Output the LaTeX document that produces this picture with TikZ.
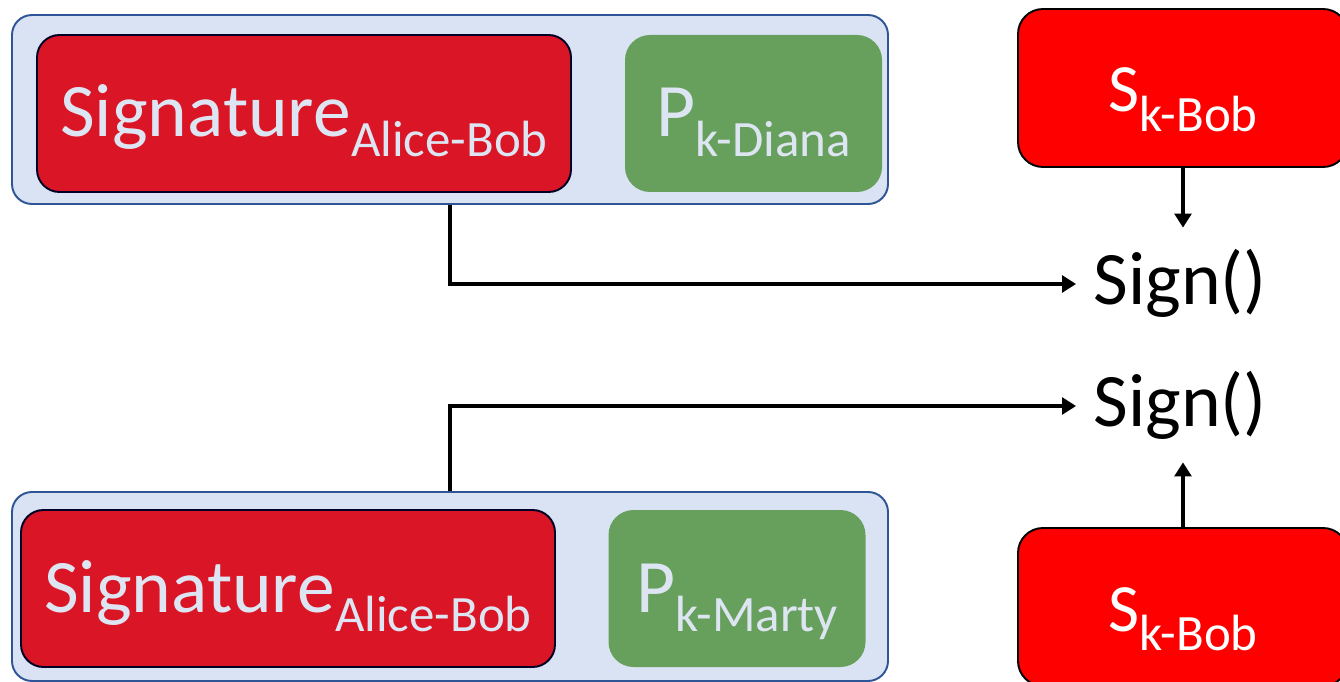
\documentclass[tikz,border=0pt]{standalone}
\usepackage{fontspec}
\setmainfont{Carlito}
\usetikzlibrary{arrows.meta}
\definecolor{grpfill}{HTML}{DAE3F3}
\definecolor{grpline}{HTML}{2F5597}
\definecolor{sigred}{HTML}{DA1525}
\definecolor{keygreen}{HTML}{67A05C}
\definecolor{lighttxt}{HTML}{DEE5F2}
\newcommand{\bigtxt}{\fontsize{43pt}{48pt}\selectfont}
\newcommand{\midtxt}{\fontsize{38.5pt}{43pt}\selectfont}
\newcommand{\lowtxt}[1]{\raisebox{-11.3pt}{\fontsize{29pt}{32pt}\selectfont #1}}

\begin{document}
\begin{tikzpicture}[x=0.02cm,y=-0.02cm,
  grp/.style={draw=grpline,line width=1.1pt,fill=grpfill,rounded corners=0.4cm,
    minimum width=876*\u,minimum height=189*\u},
  sigbox/.style={draw=black!85!blue,line width=1.1pt,fill=sigred,rounded corners=0.45cm,
    minimum width=534*\u,minimum height=157*\u,text=lighttxt,font=\bigtxt,
    text height=47*\u,text depth=0pt},
  keybox/.style={fill=keygreen,rounded corners=0.5cm,
    minimum width=257*\u,minimum height=157*\u,text=lighttxt,font=\bigtxt,
    text height=47*\u,text depth=0pt},
  secbox/.style={draw=black,line width=1.1pt,fill=red,rounded corners=0.5cm,
    minimum width=330*\u,minimum height=158*\u,text=white,font=\midtxt,
    text height=48*\u,text depth=0pt},
  signtxt/.style={font=\bigtxt,text height=42*\u,text depth=0pt,
    inner xsep=17*\u,inner ysep=35*\u},
  conn/.style={line width=2.4pt,-{Triangle[length=8pt,width=9.5pt]}}]
\def\u{0.02cm}
\useasboundingbox (0,0) rectangle (1340,682);

\node[grp] (g1) at (450, 109.5) {};
\node[sigbox] (sig1) at (304, 113.5) {Signature\lowtxt{Alice-Bob}};
\node[keybox] (pk1) at (753.5, 113.5) {P\lowtxt{k-Diana}};

\node[grp] (g2) at (450, 586.5) {};
\node[sigbox] (sig2) at (288, 588.5) {Signature\lowtxt{Alice-Bob}};
\node[keybox] (pk2) at (737, 588.5) {P\lowtxt{k-Marty}};

\node[secbox] (sk1) at (1183, 88) {S\lowtxt{k-Bob}};
\node[secbox] (sk2) at (1183, 607) {S\lowtxt{k-Bob}};

\node[signtxt] (sign1) at (1180, 284) {Sign()};
\node[signtxt] (sign2) at (1180, 406) {Sign()};

\draw[conn] (g1.south) |- (sign1.west);
\draw[conn] (g2.north) |- (sign2.west);
\draw[conn] (sk1.south) -- (sk1.south |- sign1.north);
\draw[conn] (sk2.north) -- (sk2.north |- sign2.south);
\end{tikzpicture}
\end{document}
